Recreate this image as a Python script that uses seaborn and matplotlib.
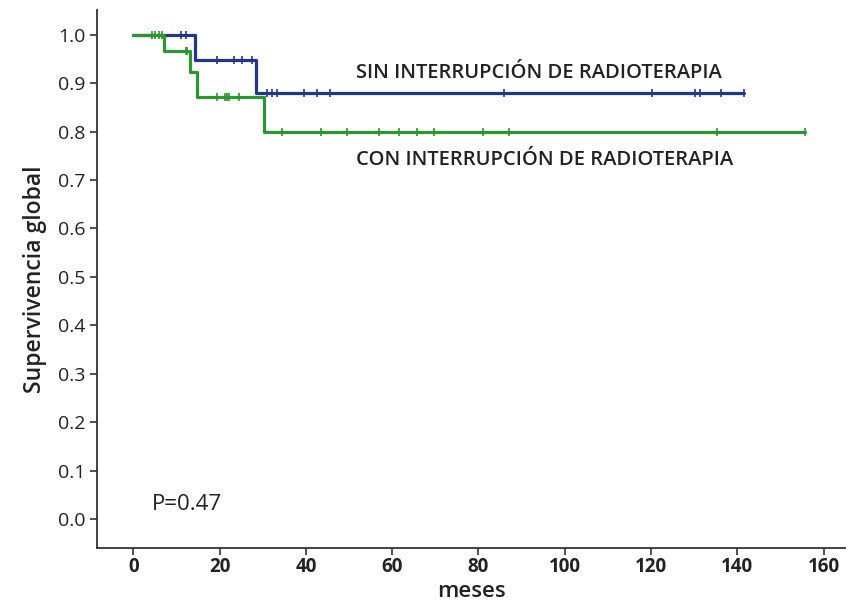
import matplotlib
matplotlib.use("Agg")
import matplotlib.pyplot as plt
import seaborn as sns
import pandas as pd
import numpy as np

# ---- data ----
sin_times = [0, 14.4, 28.5, 141.5]
sin_surv = [1.0, 0.948, 0.880, 0.880]
sin_censor = [11.1, 12.1, 19.3, 23.3, 25.2, 27.5, 31.0, 32.2, 33.4, 39.5, 42.6, 45.6,
              86.0, 120.2, 130.3, 131.3, 136.3, 141.5]

con_times = [0, 7.0, 13.1, 14.8, 30.3, 155.7]
con_surv = [1.0, 0.966, 0.922, 0.872, 0.800, 0.800]
con_censor = [4.3, 5.1, 5.9, 6.7, 12.1, 12.4, 19.4, 21.3, 21.8, 22.2, 24.4, 34.5, 43.4,
              49.6, 57.0, 61.6, 65.7, 69.7, 81.0, 87.0, 135.4, 155.7]

x_ticks = [0, 20, 40, 60, 80, 100, 120, 140, 160]
y_ticks = [0.0, 0.1, 0.2, 0.3, 0.4, 0.5, 0.6, 0.7, 0.8, 0.9, 1.0]

label_sin = "SIN INTERRUPCIÓN DE RADIOTERAPIA"
label_con = "CON INTERRUPCIÓN DE RADIOTERAPIA"
p_text = "P=0.47"

BLUE = "#22378c"
GREEN = "#2e962e"

sns.set_theme(style="ticks")
plt.rcParams["font.family"] = ["Open Sans", "DejaVu Sans"]


def step_lookup(times, surv, t):
    idx = np.searchsorted(times, t, side="right") - 1
    return [surv[i] for i in idx]


curves = pd.concat([
    pd.DataFrame({"t": sin_times, "s": sin_surv, "g": label_sin}),
    pd.DataFrame({"t": con_times, "s": con_surv, "g": label_con}),
])
cens = pd.concat([
    pd.DataFrame({"t": sin_censor, "s": step_lookup(sin_times, sin_surv, sin_censor), "g": label_sin}),
    pd.DataFrame({"t": con_censor, "s": step_lookup(con_times, con_surv, con_censor), "g": label_con}),
])
palette = {label_sin: BLUE, label_con: GREEN}

fig = plt.figure(figsize=(8.52, 6.06), dpi=100)
ax = fig.add_axes([0.114, 0.0957, 0.878, 0.887])

for g in [label_sin, label_con]:
    sns.lineplot(data=curves[curves.g == g], x="t", y="s", color=palette[g],
                 drawstyle="steps-post", linewidth=2.3, ax=ax, legend=False,
                 estimator=None, sort=False)
    sns.scatterplot(data=cens[cens.g == g], x="t", y="s", color=palette[g],
                    marker="|", s=30, linewidth=1.2, ax=ax, legend=False)

ax.set_xlim(-8.4, 165)
ax.set_ylim(-0.06, 1.05)
ax.set_xticks(x_ticks)
ax.set_yticks(y_ticks)
ax.set_xticklabels([str(v) for v in x_ticks], fontsize=13.5, fontweight="bold")
ax.set_yticklabels([f"{v:.1f}" for v in y_ticks], fontsize=14)
ax.tick_params(axis="both", length=5, width=1.2, color="#333333",
               labelcolor="#222222")
ax.tick_params(axis="x", pad=1.5)
for side in ["top", "right"]:
    ax.spines[side].set_visible(False)
for side in ["left", "bottom"]:
    ax.spines[side].set_linewidth(1.3)
    ax.spines[side].set_color("#333333")

ax.set_xlabel("meses", fontsize=16, fontweight="semibold", color="#222222", labelpad=3)
ax.set_ylabel("Supervivencia global", fontsize=16.5, fontweight="semibold",
              color="#222222", labelpad=8)

ax.text(51.5, 0.921, label_sin, fontsize=14.5, fontweight="semibold", color="#222222",
        va="center", ha="left")
ax.text(51.5, 0.742, label_con, fontsize=14.5, fontweight="semibold", color="#222222",
        va="center", ha="left")
ax.text(4.2, 0.03, p_text, fontsize=16, color="#222222", va="center", ha="left",
        family=["Liberation Sans Narrow", "Open Sans", "DejaVu Sans"])

fig.savefig("out.png", dpi=100)
